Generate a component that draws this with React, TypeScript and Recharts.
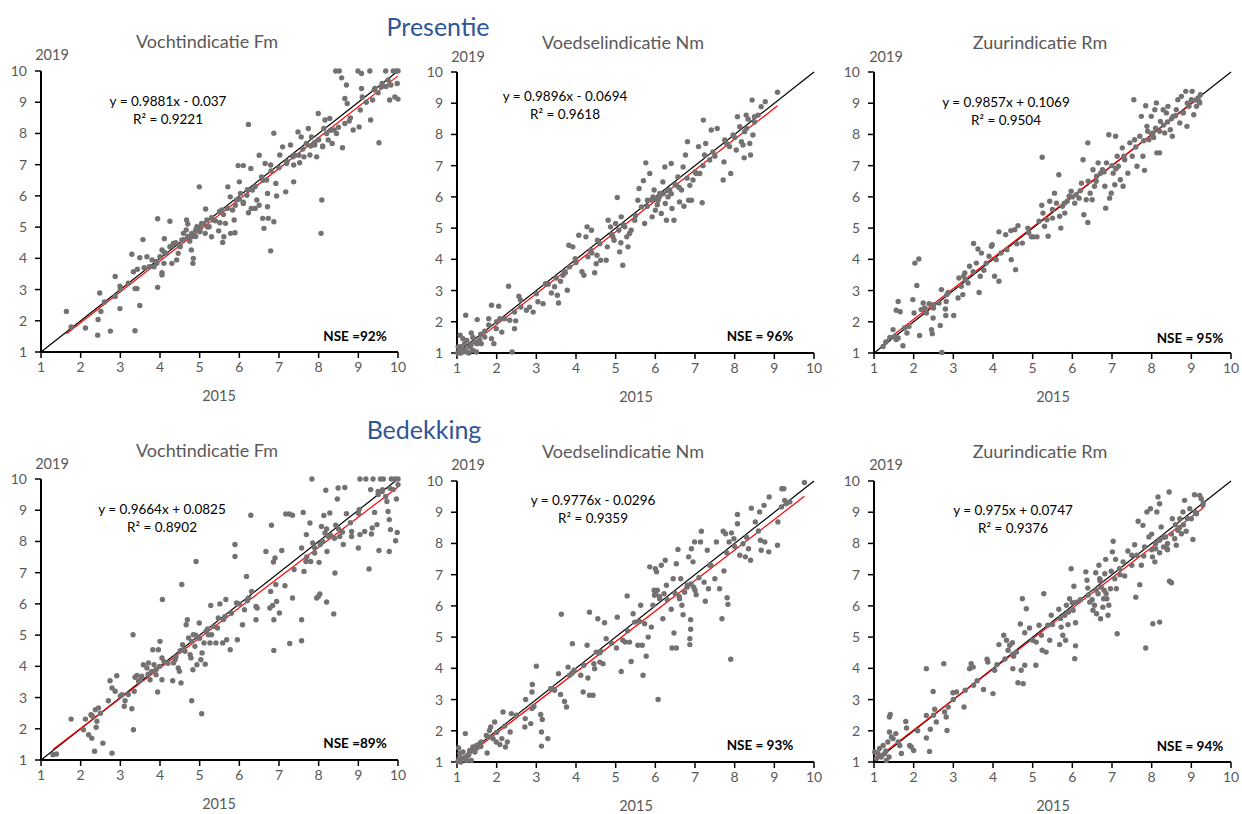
import React from 'react';
import { ScatterChart, Scatter, XAxis, YAxis, ReferenceLine } from 'recharts';

type Pt = [number, number];

const axisTicks = [1, 2, 3, 4, 5, 6, 7, 8, 9, 10];
const indicatorTitles = ['Vochtindicatie Fm', 'Voedselindicatie Nm', 'Zuurindicatie Rm'];
const groupTitles = ['Presentie', 'Bedekking'];
const xAxisName = '2015';
const yAxisName = '2019';

// Trend line coefficients per panel (presentie Fm, Nm, Rm; bedekking Fm, Nm, Rm)
const slopes = [0.9881, 0.9896, 0.9857, 0.9664, 0.9776, 0.975];
const intercepts = [-0.037, -0.0694, 0.1069, 0.0825, -0.0296, 0.0747];
const rSquared = ['0.9221', '0.9618', '0.9504', '0.8902', '0.9359', '0.9376'];
const nseLabels = ['NSE =92%', 'NSE = 96%', 'NSE = 95%', 'NSE =89%', 'NSE = 93%', 'NSE = 94%'];

// Presentie – Vochtindicatie Fm (2015, 2019)
const presentieFm: Pt[] = [
  [1.64, 2.3], [1.76, 1.8], [2.12, 1.77], [2.44, 2.04], [2.43, 1.54], [2.48, 2.89], [2.51, 2.3], [2.75, 1.67],
  [2.87, 3.42], [2.87, 2.78], [2.99, 2.39], [2.99, 3.11], [3.29, 4.13], [3.33, 3.57], [3.37, 1.68], [3.37, 3.03],
  [3.42, 3.03], [3.43, 3.65], [3.49, 2.49], [3.49, 4.02], [3.57, 4.6], [3.67, 4.05], [3.73, 3.73], [3.8, 3.95],
  [3.85, 3.73], [3.94, 3.07], [3.94, 5.27], [3.92, 3.84], [4.0, 4.05], [4.05, 4.27], [4.05, 3.47], [4.05, 3.54],
  [4.11, 4.63], [4.1, 3.84], [4.17, 4.16], [4.25, 4.37], [4.25, 5.19], [4.3, 3.84], [4.34, 4.48], [4.42, 3.95],
  [4.46, 4.16], [4.51, 4.37], [4.55, 4.59], [4.59, 4.8], [4.66, 4.91], [4.67, 5.23], [4.7, 5.1], [4.79, 4.27],
  [4.83, 3.84], [4.84, 4.0], [4.8, 4.69], [4.93, 5.01], [4.99, 6.29], [5.01, 4.91], [5.05, 5.12], [5.14, 4.8],
  [5.15, 5.58], [5.18, 5.23], [5.24, 5.01], [5.3, 4.69], [5.35, 5.23], [5.48, 4.88], [5.51, 5.14], [5.56, 5.55],
  [5.58, 4.51], [5.61, 4.69], [5.65, 5.12], [5.71, 6.29], [5.77, 5.97], [5.78, 4.8], [5.83, 5.55], [5.87, 5.23],
  [5.89, 4.82], [5.93, 5.87], [5.97, 6.97], [6.0, 6.45], [6.03, 6.08], [6.1, 6.97], [6.1, 5.76], [6.19, 6.02],
  [6.23, 5.46], [6.23, 8.29], [6.29, 6.88], [6.33, 6.19], [6.4, 5.6], [6.44, 5.87], [6.5, 7.3], [6.56, 6.61],
  [6.59, 5.28], [6.62, 4.96], [6.65, 7.04], [6.69, 6.51], [6.71, 6.08], [6.71, 5.65], [6.73, 5.28], [6.79, 4.24],
  [6.79, 6.99], [6.87, 8.01], [6.87, 5.17], [6.92, 6.4], [6.94, 6.0], [7.02, 7.31], [7.09, 7.57], [7.17, 6.13],
  [7.19, 7.04], [7.29, 7.63], [7.35, 7.25], [7.37, 6.45], [7.37, 6.99], [7.48, 8.05], [7.52, 7.06], [7.56, 7.89],
  [7.63, 7.25], [7.69, 7.68], [7.74, 8.16], [7.78, 7.31], [7.82, 7.89], [7.9, 7.63], [7.95, 7.25], [7.99, 8.64],
  [8.06, 4.8], [8.08, 5.87], [8.1, 7.57], [8.13, 8.16], [8.16, 8.43], [8.24, 7.79], [8.28, 8.48], [8.34, 7.68],
  [8.39, 8.11], [8.43, 10.0], [8.52, 10.0], [8.45, 8.0], [8.58, 9.78], [8.6, 7.54], [8.66, 9.12], [8.66, 8.32],
  [8.7, 9.55], [8.72, 8.96], [8.77, 8.4], [8.87, 8.11], [8.99, 10.0], [9.08, 9.92], [9.02, 8.21], [9.05, 8.75],
  [9.08, 9.44], [9.1, 9.17], [9.29, 10.0], [9.31, 8.43], [9.36, 9.07], [9.42, 9.44], [9.52, 7.7], [9.58, 9.49],
  [9.69, 10.0], [9.75, 9.71], [9.79, 9.07], [9.82, 9.55], [9.88, 10.0], [9.92, 9.17], [9.96, 10.0], [9.98, 9.6],
  [10.0, 9.1], [10.0, 10.0], [4.3, 4.4], [4.4, 4.5], [4.5, 4.4], [4.6, 4.6], [4.7, 4.7], [4.8, 4.8],
  [4.9, 4.9], [5.0, 5.0], [5.1, 5.1], [5.2, 5.0], [5.0, 4.85], [4.9, 4.7], [4.75, 4.55], [5.3, 5.3],
  [5.4, 5.2], [5.6, 5.4], [5.7, 5.6], [5.9, 5.7], [6.0, 5.9], [6.2, 6.2], [6.4, 6.3], [6.6, 6.5],
  [6.8, 6.8], [7.0, 6.9], [7.2, 7.1], [7.4, 7.3], [7.6, 7.5], [7.8, 7.6], [8.0, 7.8], [8.2, 8.0],
  [8.5, 8.2], [8.8, 8.5], [9.2, 9.0], [9.5, 9.3], [9.7, 9.5], [3.6, 3.7], [3.9, 3.9], [4.1, 4.2],
  [3.0, 3.0], [3.2, 3.2], [2.6, 2.6], [6.3, 5.6], [6.5, 5.7], [6.1, 5.8], [5.5, 5.5], [7.5, 7.3],
  [7.9, 7.7], [8.1, 7.6], [8.3, 8.1], [9.4, 9.4], [9.6, 9.6],
];

// Presentie – Voedselindicatie Nm
const presentieNm: Pt[] = [
  [1.08, 1.57], [1.15, 1.46], [1.03, 1.19], [1.11, 1.09], [1.19, 1.3], [1.24, 1.03], [1.22, 2.21], [1.32, 1.19],
  [1.36, 1.64], [1.4, 1.09], [1.45, 1.35], [1.49, 1.03], [1.51, 2.07], [1.57, 1.41], [1.61, 1.3], [1.7, 1.51],
  [1.8, 2.1], [1.87, 2.53], [1.87, 1.46], [1.93, 1.3], [1.99, 1.78], [2.05, 2.5], [2.08, 2.1], [2.13, 1.67],
  [2.3, 3.14], [2.33, 2.05], [2.39, 1.03], [2.45, 1.78], [2.48, 2.03], [2.45, 2.31], [2.56, 2.82], [2.61, 2.47],
  [2.75, 2.37], [2.83, 2.47], [2.92, 2.31], [3.04, 2.64], [3.17, 2.58], [3.23, 3.22], [3.38, 2.92], [3.46, 3.12],
  [3.53, 2.85], [3.56, 2.6], [3.61, 3.3], [3.67, 3.49], [3.73, 3.57], [3.78, 3.01], [3.82, 4.45], [3.84, 3.76],
  [3.92, 4.4], [3.98, 4.02], [4.07, 4.77], [4.15, 3.6], [4.2, 3.49], [4.25, 4.72], [4.28, 5.04], [4.3, 4.08],
  [4.37, 4.29], [4.39, 4.93], [4.47, 3.57], [4.51, 3.86], [4.53, 4.13], [4.54, 4.61], [4.62, 3.97], [4.76, 3.97],
  [4.79, 4.4], [4.81, 5.25], [4.87, 5.04], [4.93, 4.72], [4.96, 4.61], [5.0, 5.15], [5.04, 5.98], [5.08, 4.93],
  [5.1, 4.24], [5.13, 4.53], [5.14, 5.36], [5.18, 3.81], [5.23, 5.04], [5.28, 4.72], [5.31, 4.4], [5.35, 4.83],
  [5.39, 4.93], [5.48, 5.25], [5.56, 5.89], [5.59, 6.27], [5.65, 5.68], [5.7, 6.52], [5.73, 5.15], [5.76, 7.09],
  [5.8, 5.89], [5.86, 6.75], [5.92, 5.36], [5.94, 6.0], [5.97, 6.22], [6.0, 5.57], [6.07, 5.89], [6.11, 6.11],
  [6.15, 5.47], [6.19, 6.48], [6.24, 6.96], [6.25, 5.79], [6.28, 5.25], [6.32, 6.0], [6.36, 6.22], [6.4, 7.07],
  [6.42, 5.63], [6.47, 5.25], [6.53, 6.37], [6.57, 6.64], [6.61, 5.84], [6.66, 6.22], [6.7, 6.96], [6.72, 5.7],
  [6.76, 7.34], [6.81, 7.77], [6.84, 5.89], [6.87, 6.37], [6.91, 5.89], [6.95, 6.54], [7.03, 6.75], [7.09, 7.61],
  [7.12, 6.75], [7.18, 5.81], [7.21, 8.46], [7.24, 7.34], [7.27, 7.71], [7.37, 7.18], [7.41, 8.14], [7.45, 7.44],
  [7.56, 8.19], [7.71, 6.54], [7.73, 7.12], [7.75, 7.82], [7.87, 7.61], [7.9, 6.75], [7.96, 7.98], [8.04, 7.5],
  [8.07, 8.57], [8.13, 8.25], [8.17, 7.77], [8.21, 7.66], [8.24, 7.25], [8.25, 8.09], [8.29, 8.62], [8.34, 8.49],
  [8.38, 7.71], [8.4, 7.34], [8.44, 9.1], [8.46, 7.98], [8.5, 8.57], [8.59, 8.62], [8.67, 8.89], [8.77, 9.05],
  [9.08, 9.35], [1.05, 1.05], [1.1, 1.2], [1.2, 1.1], [1.25, 1.4], [1.3, 1.0], [1.35, 1.25], [1.4, 1.5],
  [1.5, 1.3], [1.1, 1.0], [1.02, 1.0], [1.15, 1.05], [1.6, 1.6], [1.7, 1.7], [1.8, 1.9], [2.0, 2.0],
  [2.2, 2.1], [2.6, 2.7], [3.0, 2.9], [3.3, 3.2], [3.5, 3.4], [3.7, 3.6], [4.0, 3.9], [4.4, 4.2],
  [4.6, 4.5], [4.9, 4.8], [5.2, 5.1], [5.5, 5.4], [5.8, 5.7], [6.0, 5.95], [6.2, 6.1], [6.3, 6.2],
  [6.5, 6.4], [6.6, 6.3], [6.8, 6.6], [7.0, 6.8], [7.2, 7.0], [7.5, 7.3], [7.8, 7.7], [8.0, 7.9],
  [8.3, 8.2], [8.5, 8.4], [6.1, 6.0], [6.4, 6.1], [5.9, 5.9], [6.05, 5.75],
];

// Presentie – Zuurindicatie Rm
const presentieRm: Pt[] = [
  [1.23, 1.21], [1.48, 1.75], [1.52, 1.53], [1.56, 1.43], [1.61, 2.65], [1.61, 1.48], [1.56, 2.37], [1.66, 2.32],
  [1.73, 1.23], [1.77, 1.8], [1.83, 1.64], [1.88, 1.85], [1.98, 2.71], [2.01, 2.28], [2.03, 3.88], [2.08, 3.16],
  [2.13, 4.01], [2.15, 1.56], [2.19, 2.39], [2.24, 2.6], [2.28, 2.44], [2.32, 2.28], [2.39, 2.58], [2.45, 1.75],
  [2.47, 1.62], [2.49, 2.12], [2.5, 2.44], [2.64, 2.6], [2.67, 1.88], [2.71, 1.02], [2.7, 3.03], [2.8, 2.41],
  [2.82, 2.65], [2.84, 2.87], [2.87, 2.94], [2.81, 2.2], [3.01, 2.2], [3.12, 2.76], [3.14, 3.4], [3.2, 3.14],
  [3.24, 2.87], [3.26, 3.46], [3.29, 3.56], [3.37, 3.24], [3.41, 3.78], [3.51, 4.51], [3.58, 3.88], [3.62, 4.33],
  [3.65, 2.94], [3.68, 3.46], [3.71, 4.2], [3.77, 3.65], [3.83, 3.88], [3.9, 4.1], [3.96, 4.42], [3.98, 4.47],
  [4.04, 3.46], [4.08, 3.99], [4.15, 3.3], [4.15, 4.88], [4.32, 4.79], [4.35, 4.31], [4.45, 4.92], [4.46, 3.99],
  [4.55, 4.95], [4.57, 3.67], [4.63, 5.08], [4.74, 4.52], [4.88, 5.0], [4.97, 4.72], [5.03, 4.72], [5.11, 4.72],
  [5.16, 5.22], [5.23, 5.73], [5.24, 7.27], [5.26, 5.48], [5.3, 5.06], [5.36, 5.27], [5.39, 4.74], [5.43, 5.86],
  [5.5, 5.32], [5.55, 6.12], [5.6, 5.8], [5.66, 6.71], [5.68, 5.38], [5.71, 5.0], [5.75, 5.7], [5.81, 5.48],
  [5.87, 5.86], [5.92, 6.02], [5.97, 6.18], [6.06, 5.8], [6.1, 6.07], [6.17, 5.96], [6.23, 6.44], [6.27, 7.19],
  [6.29, 5.43], [6.35, 5.91], [6.39, 7.73], [6.39, 5.18], [6.45, 6.12], [6.5, 5.91], [6.52, 6.87], [6.56, 6.34],
  [6.61, 6.66], [6.65, 7.09], [6.71, 6.76], [6.76, 6.87], [6.82, 6.34], [6.84, 5.64], [6.86, 7.09], [6.92, 7.99],
  [6.94, 5.96], [6.98, 6.12], [7.03, 6.76], [7.07, 6.39], [7.09, 7.94], [7.13, 7.3], [7.16, 6.98], [7.21, 6.55],
  [7.26, 7.57], [7.28, 6.34], [7.32, 7.19], [7.4, 6.76], [7.45, 7.73], [7.51, 7.3], [7.55, 9.11], [7.57, 7.83],
  [7.63, 6.98], [7.7, 7.94], [7.74, 8.58], [7.78, 7.3], [7.82, 6.85], [7.85, 8.92], [7.88, 8.26], [7.93, 7.83],
  [7.99, 8.58], [8.03, 8.05], [8.08, 8.79], [8.12, 9.01], [8.13, 7.41], [8.2, 7.41], [8.22, 8.42], [8.29, 8.79],
  [8.33, 8.05], [8.37, 8.69], [8.41, 8.9], [8.47, 8.15], [8.52, 7.94], [8.54, 8.58], [8.62, 8.79], [8.66, 9.11],
  [8.71, 8.37], [8.75, 9.22], [8.79, 8.69], [8.86, 9.38], [8.89, 8.26], [8.94, 8.9], [9.0, 9.11], [9.02, 9.38],
  [9.06, 8.63], [9.13, 8.9], [9.17, 9.17], [9.21, 9.01], [9.23, 9.27], [1.3, 1.35], [1.4, 1.5], [2.5, 2.55],
  [3.3, 3.35], [3.5, 3.6], [4.2, 4.2], [4.6, 4.5], [4.9, 4.85], [5.5, 5.6], [5.8, 5.8], [6.0, 6.0],
  [6.2, 6.2], [6.4, 6.5], [6.6, 6.5], [6.8, 6.8], [7.0, 7.0], [7.1, 6.9], [7.3, 7.3], [7.6, 7.6],
  [7.8, 7.8], [8.0, 8.0], [8.1, 8.2], [8.2, 8.1], [8.4, 8.4], [8.5, 8.5], [8.6, 8.6], [8.8, 8.7],
  [8.9, 9.0], [9.1, 9.1], [9.2, 9.05], [8.3, 8.3], [7.9, 8.1], [8.05, 7.9],
];

// Bedekking – Vochtindicatie Fm
const bedekkingFm: Pt[] = [
  [1.3, 1.17], [1.39, 1.19], [1.76, 2.31], [2.07, 1.97], [2.12, 2.31], [2.2, 1.81], [2.28, 1.7], [2.26, 2.45],
  [2.35, 1.28], [2.37, 2.61], [2.39, 2.05], [2.41, 2.24], [2.45, 2.67], [2.56, 1.54], [2.7, 2.9], [2.74, 3.54],
  [2.79, 1.22], [2.79, 3.31], [2.87, 3.2], [2.91, 3.7], [3.04, 3.09], [3.1, 2.72], [3.12, 2.9], [3.29, 2.64],
  [3.32, 5.01], [3.33, 1.97], [3.35, 3.2], [3.37, 3.65], [3.42, 3.71], [3.46, 3.52], [3.54, 3.68], [3.58, 4.05],
  [3.67, 3.95], [3.71, 4.11], [3.75, 3.57], [3.79, 3.84], [3.82, 4.53], [3.85, 4.05], [3.9, 3.73], [3.94, 3.18],
  [3.96, 4.53], [3.99, 4.0], [4.0, 4.8], [4.05, 4.27], [4.05, 3.57], [4.06, 6.14], [4.32, 3.54], [4.34, 4.11],
  [4.38, 4.21], [4.46, 3.95], [4.49, 3.84], [4.51, 4.5], [4.53, 3.47], [4.55, 6.62], [4.57, 4.69], [4.63, 4.48],
  [4.66, 5.33], [4.69, 5.49], [4.72, 4.91], [4.76, 4.37], [4.78, 4.27], [4.8, 2.9], [4.83, 3.89], [4.84, 5.01],
  [4.88, 4.64], [4.91, 7.36], [4.93, 4.05], [4.97, 4.91], [4.99, 5.39], [5.03, 4.21], [5.05, 2.48], [5.06, 4.43],
  [5.11, 4.75], [5.14, 4.07], [5.16, 5.12], [5.22, 5.01], [5.26, 4.75], [5.28, 5.95], [5.3, 5.01], [5.35, 5.28],
  [5.41, 4.75], [5.45, 5.23], [5.47, 5.55], [5.51, 6.0], [5.58, 4.75], [5.64, 5.6], [5.66, 6.14], [5.68, 4.85],
  [5.77, 4.53], [5.89, 7.9], [5.89, 7.52], [5.93, 6.03], [5.95, 4.85], [6.08, 5.33], [6.13, 5.81], [6.18, 6.88],
  [6.23, 6.19], [6.29, 8.84], [6.31, 6.4], [6.42, 5.92], [6.42, 5.49], [6.45, 5.87], [6.67, 7.68], [6.77, 5.87],
  [6.79, 6.4], [6.81, 8.52], [6.84, 5.95], [6.86, 7.34], [6.87, 5.49], [6.87, 4.51], [6.9, 7.47], [6.92, 6.62],
  [6.94, 6.08], [7.01, 5.71], [7.07, 7.71], [7.15, 6.58], [7.17, 8.88], [7.26, 8.88], [7.27, 4.73], [7.34, 8.84],
  [7.34, 6.19], [7.38, 7.1], [7.57, 5.49], [7.57, 4.82], [7.57, 7.79], [7.61, 8.93], [7.63, 7.04], [7.68, 7.36],
  [7.69, 8.22], [7.78, 8.59], [7.8, 7.36], [7.83, 10.0], [7.85, 7.95], [7.9, 7.63], [7.95, 6.19], [7.99, 6.24],
  [8.01, 7.33], [8.03, 6.32], [8.04, 7.9], [8.07, 8.48], [8.13, 8.83], [8.16, 8.27], [8.18, 9.64], [8.2, 6.06],
  [8.21, 7.68], [8.24, 8.16], [8.28, 8.91], [8.38, 5.68], [8.41, 6.99], [8.43, 8.52], [8.47, 9.36], [8.49, 9.71],
  [8.53, 8.16], [8.58, 8.32], [8.62, 7.9], [8.66, 9.73], [8.7, 8.89], [8.83, 8.16], [8.83, 8.32], [9.0, 7.79],
  [9.02, 9.02], [9.04, 10.0], [9.04, 8.22], [9.16, 8.32], [9.19, 10.0], [9.27, 7.12], [9.31, 9.66], [9.33, 8.24],
  [9.35, 8.43], [9.37, 10.0], [9.41, 8.93], [9.47, 8.54], [9.5, 9.6], [9.52, 7.71], [9.56, 10.0], [9.61, 9.66],
  [9.63, 10.0], [9.69, 9.44], [9.72, 9.28], [9.75, 8.96], [9.78, 8.7], [9.78, 7.68], [9.81, 8.38], [9.83, 10.0],
  [9.88, 9.66], [9.92, 10.0], [9.94, 8.02], [9.96, 9.36], [9.98, 8.29], [10.0, 10.0], [10.0, 9.82], [3.0, 3.05],
  [3.2, 3.1], [3.5, 3.55], [3.7, 3.75], [3.9, 3.9], [4.1, 4.15], [4.2, 4.1], [4.4, 4.3], [4.6, 4.55],
  [4.8, 4.8], [4.9, 5.0], [5.0, 4.9], [5.2, 5.2], [5.6, 5.5], [5.8, 5.7], [6.0, 6.0], [6.2, 6.1],
  [7.7, 7.5], [7.9, 7.8], [8.1, 8.0], [8.3, 8.2], [8.5, 8.4], [8.6, 8.3], [8.2, 8.4], [8.4, 8.1],
  [8.8, 8.6], [9.0, 8.9], [9.5, 9.5], [9.6, 9.6], [9.8, 9.7], [2.5, 2.5], [2.3, 2.4],
];

// Bedekking – Voedselindicatie Nm
const bedekkingNm: Pt[] = [
  [1.04, 1.45], [1.07, 1.27], [1.11, 1.11], [1.15, 1.32], [1.21, 1.91], [1.24, 1.05], [1.28, 1.21], [1.32, 1.37],
  [1.36, 1.05], [1.4, 1.48], [1.45, 1.32], [1.49, 1.53], [1.57, 1.59], [1.61, 1.64], [1.74, 1.85], [1.76, 1.29],
  [1.82, 2.01], [1.85, 2.12], [1.91, 1.75], [1.95, 2.28], [1.99, 1.64], [2.08, 1.56], [2.13, 1.75], [2.16, 2.6],
  [2.22, 1.48], [2.27, 1.64], [2.34, 1.96], [2.37, 2.55], [2.71, 2.12], [2.72, 2.39], [2.73, 3.0], [2.86, 2.23],
  [2.89, 2.71], [2.89, 3.24], [2.9, 3.48], [2.94, 2.78], [3.0, 4.07], [3.11, 2.52], [3.13, 1.96], [3.13, 1.51],
  [3.15, 2.36], [3.29, 1.75], [3.36, 3.35], [3.46, 3.3], [3.56, 3.83], [3.61, 3.16], [3.63, 5.73], [3.71, 2.94],
  [3.76, 2.76], [3.8, 4.04], [3.84, 3.78], [3.91, 4.79], [3.95, 3.94], [4.12, 3.78], [4.18, 3.24], [4.28, 4.74],
  [4.3, 3.69], [4.34, 5.8], [4.34, 3.14], [4.43, 3.14], [4.45, 4.15], [4.47, 3.99], [4.51, 4.52], [4.55, 5.59],
  [4.6, 4.2], [4.62, 4.54], [4.68, 4.15], [4.72, 5.46], [4.76, 4.95], [5.02, 4.65], [5.04, 5.64], [5.14, 3.9],
  [5.18, 4.9], [5.24, 4.84], [5.29, 6.32], [5.35, 4.84], [5.39, 4.22], [5.44, 5.75], [5.48, 5.48], [5.56, 4.74],
  [5.63, 6.02], [5.67, 4.74], [5.69, 3.78], [5.73, 5.43], [5.77, 4.39], [5.82, 5.0], [5.86, 7.25], [5.9, 5.32],
  [5.94, 6.02], [5.97, 6.5], [5.98, 6.34], [6.0, 7.19], [6.03, 7.09], [6.07, 3.0], [6.11, 6.23], [6.15, 7.3],
  [6.19, 5.59], [6.22, 6.39], [6.25, 7.46], [6.28, 6.66], [6.4, 5.89], [6.42, 4.65], [6.45, 6.87], [6.47, 5.13],
  [6.53, 4.65], [6.53, 7.35], [6.57, 7.81], [6.61, 6.23], [6.64, 6.87], [6.67, 6.02], [6.7, 5.72], [6.74, 6.44],
  [6.81, 6.66], [6.84, 7.57], [6.87, 4.76], [6.87, 4.95], [6.89, 5.56], [6.89, 5.25], [6.91, 7.83], [6.95, 7.41],
  [6.97, 6.6], [6.99, 8.05], [7.03, 6.36], [7.14, 8.05], [7.16, 8.39], [7.23, 6.76], [7.26, 6.15], [7.31, 7.78],
  [7.34, 6.55], [7.37, 7.3], [7.5, 6.87], [7.54, 8.05], [7.62, 6.55], [7.68, 5.59], [7.71, 8.39], [7.73, 7.12],
  [7.77, 8.31], [7.81, 6.26], [7.83, 6.05], [7.86, 8.05], [7.9, 4.29], [7.92, 8.34], [7.98, 8.15], [8.07, 8.93],
  [8.07, 8.63], [8.13, 7.62], [8.21, 7.99], [8.27, 7.57], [8.35, 7.83], [8.4, 7.46], [8.42, 9.13], [8.52, 8.69],
  [8.63, 9.01], [8.65, 8.1], [8.67, 7.78], [8.74, 9.22], [8.76, 8.05], [8.86, 7.73], [8.87, 9.49], [9.08, 7.94],
  [9.09, 8.69], [9.18, 9.17], [9.19, 9.75], [9.24, 9.75], [9.26, 9.38], [9.3, 9.27], [9.39, 9.33], [9.76, 9.95],
  [1.02, 1.02], [1.05, 1.1], [1.1, 1.0], [1.2, 1.15], [1.3, 1.25], [1.4, 1.4], [1.5, 1.45], [1.6, 1.5],
  [1.8, 1.8], [2.0, 1.95], [2.2, 2.15], [2.5, 2.5], [3.4, 3.35], [3.9, 3.85], [4.2, 4.1], [4.6, 4.5],
  [4.9, 4.8], [5.3, 5.2], [5.6, 5.5], [6.0, 6.4], [6.05, 6.5], [6.1, 6.3], [6.3, 6.2], [6.5, 6.4],
  [6.6, 6.3], [6.8, 6.6], [6.9, 6.7], [7.0, 6.5], [7.1, 6.9], [7.4, 7.3], [7.8, 7.7], [8.0, 7.9],
  [8.3, 8.2], [8.6, 8.4],
];

// Bedekking – Zuurindicatie Rm
const bedekkingRm: Pt[] = [
  [1.02, 1.32], [1.06, 1.11], [1.1, 1.27], [1.14, 1.43], [1.18, 1.16], [1.23, 1.53], [1.27, 1.27], [1.31, 1.05],
  [1.35, 1.64], [1.38, 1.16], [1.39, 1.96], [1.39, 2.44], [1.41, 2.52], [1.44, 1.8], [1.48, 1.75], [1.55, 1.91],
  [1.61, 1.64], [1.65, 1.53], [1.69, 1.27], [1.8, 2.3], [1.82, 2.09], [1.9, 1.53], [1.94, 1.48], [2.0, 1.37],
  [2.32, 3.99], [2.32, 1.77], [2.32, 2.49], [2.4, 1.34], [2.42, 2.05], [2.49, 3.26], [2.53, 2.69], [2.57, 2.28],
  [2.76, 4.15], [2.78, 2.6], [2.82, 2.44], [2.84, 2.01], [2.87, 2.76], [2.99, 3.22], [3.08, 3.24], [3.27, 2.76],
  [3.41, 3.99], [3.45, 4.15], [3.5, 4.04], [3.51, 3.46], [3.76, 3.32], [3.85, 4.29], [3.87, 4.2], [4.0, 3.19],
  [4.04, 3.94], [4.1, 4.12], [4.15, 4.76], [4.27, 5.06], [4.34, 4.9], [4.38, 4.58], [4.42, 4.74], [4.49, 4.82],
  [4.5, 3.99], [4.52, 4.39], [4.59, 4.52], [4.63, 3.54], [4.69, 5.42], [4.71, 3.94], [4.74, 6.23], [4.76, 3.51],
  [4.8, 5.14], [4.8, 4.1], [4.84, 5.91], [4.92, 5.29], [5.08, 4.1], [5.09, 4.84], [5.16, 5.38], [5.22, 5.06],
  [5.24, 4.58], [5.28, 6.39], [5.34, 4.52], [5.38, 5.38], [5.43, 4.9], [5.47, 5.7], [5.66, 5.89], [5.68, 4.76],
  [5.72, 5.32], [5.76, 5.06], [5.81, 5.7], [5.83, 4.9], [5.85, 6.02], [5.89, 5.4], [5.93, 6.23], [5.97, 7.19],
  [6.02, 5.86], [6.04, 6.63], [6.06, 4.31], [6.08, 5.46], [6.08, 4.72], [6.1, 6.12], [6.34, 7.09], [6.37, 6.82],
  [6.39, 6.57], [6.44, 6.12], [6.52, 5.86], [6.56, 6.02], [6.59, 7.06], [6.61, 5.75], [6.65, 6.39], [6.67, 7.3],
  [6.69, 6.87], [6.71, 5.59], [6.73, 6.6], [6.77, 5.96], [6.79, 6.23], [6.82, 7.03], [6.84, 7.49], [6.87, 6.23],
  [6.9, 5.7], [6.92, 6.02], [6.96, 6.55], [6.98, 7.11], [7.01, 7.73], [7.03, 8.07], [7.07, 6.87], [7.09, 7.49],
  [7.11, 6.55], [7.13, 5.11], [7.19, 7.19], [7.28, 7.41], [7.32, 6.96], [7.4, 7.76], [7.5, 7.62], [7.57, 7.96],
  [7.6, 6.28], [7.63, 7.62], [7.66, 8.71], [7.7, 6.68], [7.74, 7.3], [7.78, 8.58], [7.82, 7.89], [7.85, 4.65],
  [7.88, 9.01], [7.93, 8.21], [7.97, 9.11], [8.02, 7.57], [8.03, 5.43], [8.08, 7.41], [8.1, 7.83], [8.13, 9.01],
  [8.16, 9.49], [8.2, 5.48], [8.2, 9.27], [8.24, 8.53], [8.3, 7.89], [8.35, 8.21], [8.39, 7.83], [8.44, 9.65],
  [8.45, 6.79], [8.5, 6.74], [8.52, 8.79], [8.58, 8.15], [8.62, 7.94], [8.66, 8.42], [8.71, 8.79], [8.75, 8.31],
  [8.79, 9.01], [8.83, 9.38], [8.87, 8.39], [8.96, 9.11], [9.0, 8.79], [9.04, 8.13], [9.08, 9.56], [9.13, 8.95],
  [9.21, 9.54], [9.25, 9.43], [9.29, 9.22], [1.2, 1.2], [1.3, 1.35], [2.1, 2.0], [2.5, 2.5], [3.0, 3.0],
  [3.3, 3.3], [3.6, 3.6], [4.3, 4.3], [4.5, 4.45], [5.0, 4.9], [5.5, 5.4], [5.7, 5.6], [5.9, 5.8],
  [6.0, 6.1], [6.2, 6.2], [6.4, 6.35], [6.5, 6.2], [6.6, 6.5], [6.7, 6.8], [6.8, 6.5], [6.85, 6.4],
  [7.2, 7.0], [7.5, 7.3], [7.8, 7.6], [8.0, 7.8], [8.1, 8.0], [8.2, 8.1], [8.3, 8.2], [8.4, 8.0],
  [8.5, 8.3], [8.6, 8.6], [8.7, 8.5], [8.8, 8.6], [8.9, 8.8], [9.1, 9.0], [9.3, 9.3], [8.0, 8.3],
  [8.2, 7.7], [8.4, 7.8],
];

const panelData = [presentieFm, presentieNm, presentieRm, bedekkingFm, bedekkingNm, bedekkingRm];

const FONT = 'Lato, "Open Sans", sans-serif';
const DOT = '#767171';
const GREY = '#595959';

// Pixel frame of each plot area and anchors of its annotations
const frames = [
  { x0: 41, x1: 398, y0: 71, y1: 352, eq: [168, 102], nse: [355, 337], title: [207, 41], yl: [52, 55], xl: [219, 396] },
  { x0: 457, x1: 814, y0: 72, y1: 353, eq: [565, 97], nse: [760, 337], title: [623, 42], yl: [468, 57], xl: [636, 397] },
  { x0: 874, x1: 1231, y0: 72, y1: 353, eq: [1006, 103], nse: [1190, 339], title: [1040, 42], yl: [886, 57], xl: [1053, 397] },
  { x0: 41, x1: 398, y0: 479, y1: 760, eq: [162, 510], nse: [355, 744], title: [207, 450], yl: [52, 464], xl: [219, 804] },
  { x0: 457, x1: 814, y0: 481, y1: 762, eq: [593, 501], nse: [760, 746], title: [623, 451], yl: [468, 465], xl: [636, 806] },
  { x0: 874, x1: 1231, y0: 481, y1: 762, eq: [1013, 511], nse: [1190, 747], title: [1040, 451], yl: [886, 465], xl: [1053, 806] },
];

function Txt({ x, y, children, style }: { x: number; y: number; children: React.ReactNode; style?: React.CSSProperties }) {
  return (
    <div
      style={{
        position: 'absolute', left: x, top: y, transform: 'translate(-50%, -50%)',
        whiteSpace: 'nowrap', lineHeight: 1, fontFamily: FONT, ...style,
      }}
    >
      {children}
    </div>
  );
}

const Dot = (props: any) => <circle cx={props.cx} cy={props.cy} r={2.7} fill={DOT} />;

function fmtEquation(a: number, b: number) {
  return `y = ${a}x ${b < 0 ? '-' : '+'} ${Math.abs(b)}`;
}

function Panel({ idx }: { idx: number }) {
  const f = frames[idx];
  const data = panelData[idx];
  const a = slopes[idx];
  const b = intercepts[idx];
  const yw = 34, xh = 34, pad = 8;
  const W = yw + (f.x1 - f.x0) + pad;
  const H = pad + (f.y1 - f.y0) + xh;
  const pts = data.map(([x, y]) => ({ x, y }));
  const xs = data.map((d) => d[0]);
  const xmin = Math.min(...xs);
  const xmax = Math.max(...xs);
  const tickStyle = { fill: GREY, fontSize: 14, fontFamily: FONT };
  return (
    <>
      <div style={{ position: 'absolute', left: f.x0 - yw, top: f.y0 - pad }}>
        <ScatterChart width={W} height={H} margin={{ top: pad, right: pad, bottom: 0, left: 0 }}>
          <XAxis
            type="number" dataKey="x" domain={[1, 10]} ticks={axisTicks} interval={0} height={xh}
            axisLine={{ stroke: '#000', strokeWidth: 2 }} tickLine={{ stroke: '#000', strokeWidth: 1.5 }}
            tickSize={6} tickMargin={4} tick={tickStyle}
          />
          <YAxis
            type="number" dataKey="y" domain={[1, 10]} ticks={axisTicks} interval={0} width={yw}
            axisLine={{ stroke: '#000', strokeWidth: 2 }} tickLine={{ stroke: '#000', strokeWidth: 1.5 }}
            tickSize={6} tickMargin={8} tick={tickStyle}
          />
          <Scatter data={pts} isAnimationActive={false} shape={Dot} />
          <ReferenceLine
            segment={[{ x: 1, y: 1 }, { x: 10, y: 10 }]}
            stroke="#000" strokeWidth={1.2} ifOverflow="visible"
          />
          <ReferenceLine
            segment={[{ x: xmin, y: a * xmin + b }, { x: xmax, y: a * xmax + b }]}
            stroke="#ff0000" strokeWidth={1.2} ifOverflow="visible"
          />
        </ScatterChart>
      </div>
      <Txt x={f.title[0]} y={f.title[1]} style={{ fontSize: 18, color: GREY }}>{indicatorTitles[idx % 3]}</Txt>
      <Txt x={f.yl[0]} y={f.yl[1]} style={{ fontSize: 14.5, color: GREY }}>{yAxisName}</Txt>
      <Txt x={f.xl[0]} y={f.xl[1]} style={{ fontSize: 14.5, color: GREY }}>{xAxisName}</Txt>
      <Txt x={f.eq[0]} y={f.eq[1]} style={{ fontSize: 13.5, color: '#000' }}>{fmtEquation(a, b)}</Txt>
      <Txt x={f.eq[0]} y={f.eq[1] + 18} style={{ fontSize: 13.5, color: '#000' }}>R² = {rSquared[idx]}</Txt>
      <Txt x={f.nse[0]} y={f.nse[1]} style={{ fontSize: 13.5, color: '#000', fontWeight: 700 }}>{nseLabels[idx]}</Txt>
    </>
  );
}

export default function App() {
  return (
    <div style={{ position: 'absolute', left: 0, top: 0, width: 1242, height: 814, background: '#fff', overflow: 'hidden' }}>
      <Txt x={438} y={26} style={{ fontSize: 25, color: '#2F5597' }}>{groupTitles[0]}</Txt>
      <Txt x={424} y={429} style={{ fontSize: 25, color: '#2F5597' }}>{groupTitles[1]}</Txt>
      {frames.map((_, i) => (
        <Panel key={i} idx={i} />
      ))}
    </div>
  );
}
